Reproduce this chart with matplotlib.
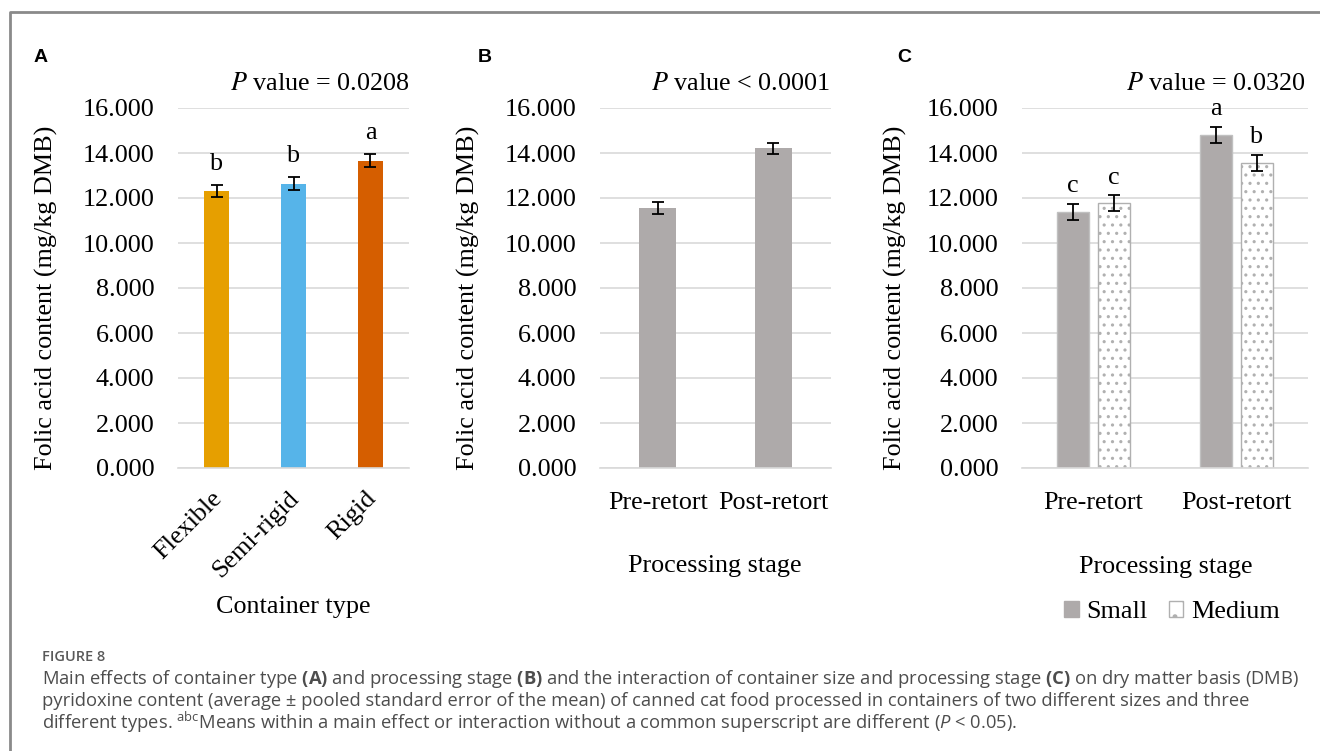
import matplotlib
matplotlib.use("Agg")
import matplotlib.pyplot as plt
import matplotlib.transforms as mtransforms
from matplotlib.patches import Patch
from matplotlib.lines import Line2D
import numpy as np

# data
types = ["Flexible", "Semi-rigid", "Rigid"]
type_means = [12.31, 12.64, 13.66]
type_sem = [0.28, 0.29, 0.28]
type_letters = ["b", "b", "a"]
type_colors = ["#E69F00", "#56B4E9", "#D55E00"]

stages = ["Pre-retort", "Post-retort"]
stage_means = [11.56, 14.21]
stage_sem = [0.25, 0.24]

sizes = ["Small", "Medium"]
small_means = [11.38, 14.81]
medium_means = [11.77, 13.57]
inter_sem = [0.35, 0.35]
small_letters = ["c", "a"]
medium_letters = ["c", "b"]

yticks = np.arange(0, 16.1, 2)

W, H = 1320, 751
plt.rcParams["mathtext.fontset"] = "custom"
plt.rcParams["mathtext.rm"] = "Open Sans"
plt.rcParams["mathtext.it"] = "Open Sans:italic"
plt.rcParams["mathtext.bf"] = "Open Sans:bold"
plt.rcParams["hatch.linewidth"] = 1.1

SERIF = "Liberation Serif"
FS = 18.8
GRID = "#d9d9d9"
GRAY = "#aeaaaa"
EDGE = "#c0c0c0"
HATCH_EDGE = "#b0b0b0"

fig = plt.figure(figsize=(W / 100, H / 100), dpi=100)


def px_axes(x0, x1, y0, y1):
    return fig.add_axes([x0 / W, 1 - y1 / H, (x1 - x0) / W, (y1 - y0) / H])


def fx(x):
    return x / W


def fy(y):
    return 1 - y / H


def style(ax):
    ax.set_ylim(0, 16)
    ax.set_yticks(yticks)
    ax.set_yticklabels([f"{v:.3f}" for v in yticks], fontfamily=SERIF, fontsize=FS)
    ax.grid(axis="y", color=GRID, lw=1.2)
    ax.set_axisbelow(True)
    for s in ["top", "right", "left"]:
        ax.spines[s].set_visible(False)
    ax.spines["bottom"].set_color(GRID)
    ax.spines["bottom"].set_linewidth(1.2)
    ax.tick_params(length=0, pad=17)


# frame line
fig.add_artist(Line2D([fx(10), fx(10), 1], [0, fy(12), fy(12)], color="#8a8a8a", lw=2))

# ---------- panel A
axA = px_axes(178, 409, 108, 468)
xa = np.arange(len(types))
axA.bar(xa, type_means, width=0.32, color=type_colors, zorder=2)
axA.errorbar(xa, type_means, yerr=type_sem, fmt="none", ecolor="black", capsize=4, elinewidth=1.3, capthick=1.3, zorder=3)
for i in range(len(types)):
    axA.text(xa[i], type_means[i] + type_sem[i] + 0.45, type_letters[i], ha="center", va="bottom", fontfamily=SERIF, fontsize=FS)
axA.set_xlim(-0.5, 2.5)
style(axA)
axA.set_xticks(xa)
axA.set_xticklabels(types, rotation=45, ha="right", rotation_mode="anchor", fontfamily=SERIF, fontsize=FS)
axA.tick_params(axis="x", pad=14)
shift = mtransforms.ScaledTranslation(-6 / 100, 0, fig.dpi_scale_trans)
for lbl in axA.get_xticklabels():
    lbl.set_transform(lbl.get_transform() + shift)

# ---------- panel B
axB = px_axes(600, 831, 108, 468)
xb = np.arange(len(stages))
axB.bar(xb, stage_means, width=0.32, color=GRAY, zorder=2)
axB.errorbar(xb, stage_means, yerr=stage_sem, fmt="none", ecolor="black", capsize=4, elinewidth=1.3, capthick=1.3, zorder=3)
axB.set_xlim(-0.5, 1.5)
style(axB)
axB.set_xticks(xb)
axB.set_xticklabels(stages, fontfamily=SERIF, fontsize=FS)

# ---------- panel C
axC = px_axes(1022, 1308, 108, 468)
xc = np.arange(len(stages))
bw = 0.224
off = 0.143
axC.bar(xc - off, small_means, width=bw, color=GRAY, edgecolor=EDGE, lw=1, zorder=2, label="Small")
axC.bar(xc + off, medium_means, width=bw, color="white", edgecolor=HATCH_EDGE, hatch="..", lw=1, zorder=2, label="Medium")
axC.errorbar(xc - off, small_means, yerr=inter_sem, fmt="none", ecolor="black", capsize=4, elinewidth=1.3, capthick=1.3, zorder=3)
axC.errorbar(xc + off, medium_means, yerr=inter_sem, fmt="none", ecolor="black", capsize=4, elinewidth=1.3, capthick=1.3, zorder=3)
for i in range(len(stages)):
    axC.text(xc[i] - off, small_means[i] + inter_sem[i] + 0.3, small_letters[i], ha="center", va="bottom", fontfamily=SERIF, fontsize=FS)
    axC.text(xc[i] + off, medium_means[i] + inter_sem[i] + 0.3, medium_letters[i], ha="center", va="bottom", fontfamily=SERIF, fontsize=FS)
axC.set_xlim(-0.5, 1.5)
style(axC)
axC.set_xticks(xc)
axC.set_xticklabels(stages, fontfamily=SERIF, fontsize=FS)
axC.legend(handles=[Patch(facecolor=GRAY, edgecolor=GRAY, label="Small"),
                    Patch(facecolor="white", edgecolor=HATCH_EDGE, hatch=".", label="Medium")],
           loc="center", bbox_to_anchor=(fx(1172), fy(612)), bbox_transform=fig.transFigure,
           ncol=2, frameon=False, prop={"family": SERIF, "size": FS},
           handlelength=0.55, handleheight=0.55, handletextpad=0.3, columnspacing=0.8,
           borderpad=0)

# panel labels, y labels, x labels, P values
ylab = "Folic acid content (mg/kg DMB)"
for (lx, lab, ylx, pval, pxr, xlab, xly, xlx) in [
        (34, "A", 46, "value = 0.0208", 410, "Container type", 607, 293),
        (478, "B", 468, "value < 0.0001", 830, "Processing stage", 566, 715),
        (897, "C", 895, "value = 0.0320", 1306, "Processing stage", 567, 1166)]:
    fig.text(fx(lx), fy(57), lab, fontfamily="Liberation Sans", fontweight="bold", fontsize=14, ha="left", va="center")
    fig.text(fx(ylx), fy(298), ylab, rotation=90, fontfamily=SERIF, fontsize=FS, ha="center", va="center")
    fig.text(fx(pxr), fy(84), r"$P$ " + pval, fontfamily=SERIF, fontsize=FS, ha="right", va="center", math_fontfamily="stix")
    fig.text(fx(xlx), fy(xly), xlab, fontfamily=SERIF, fontsize=FS, ha="center", va="center")

# caption
CAP = "#4d4d4d"
fig.text(fx(42), fy(657), "FIGURE 8", fontfamily="Open Sans", fontweight="semibold", fontsize=10.5, color="#595959", va="center")
cap_lines = [
    r"Main effects of container type $\mathbf{(A)}$ and processing stage $\mathbf{(B)}$ and the interaction of container size and processing stage $\mathbf{(C)}$ on dry matter basis (DMB)",
    "pyridoxine content (average \u00b1 pooled standard error of the mean) of canned cat food processed in containers of two different sizes and three",
    r"different types. ${}^{\mathrm{abc}}$Means within a main effect or interaction without a common superscript are different ($\mathit{P}$ < 0.05).",
]
for i, line in enumerate(cap_lines):
    fig.text(fx(42), fy(679 + 21.5 * i), line, fontfamily="Open Sans", fontsize=13.2, color=CAP, va="center", math_fontfamily="custom")

fig.savefig("out.png", dpi=100)
